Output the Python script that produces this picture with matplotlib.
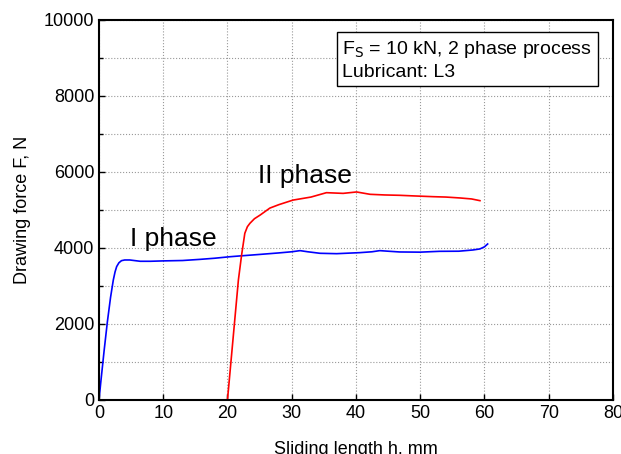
import matplotlib
matplotlib.use("Agg")
import matplotlib.pyplot as plt
from matplotlib.ticker import MultipleLocator

plt.rcParams["font.family"] = ["Liberation Sans", "DejaVu Sans"]

# phase I (blue)
h1 = [0.0, 0.3, 0.8, 1.3, 1.8, 2.23, 2.5, 2.75, 3.1, 3.5, 4.0, 4.8, 6.4, 8.0, 10.0,
      13.0, 15.7, 18.0, 20.4, 21.9, 25.0, 28.0, 30.0, 31.3, 32.5, 34.4, 37.0, 40.6,
      42.5, 43.7, 45.0, 46.8, 50.0, 53.0, 56.0, 58.2, 59.3, 60.0, 60.5]
f1 = [0, 500, 1300, 2050, 2700, 3158, 3370, 3510, 3610, 3666, 3684, 3684, 3650,
      3650, 3660, 3670, 3700, 3730, 3770, 3790, 3830, 3870, 3900, 3930, 3900,
      3860, 3850, 3877, 3900, 3930, 3915, 3895, 3890, 3912, 3915, 3947, 3975,
      4030, 4105]

# phase II (red)
h2 = [20.0, 20.7, 21.4, 21.7, 22.2, 22.7, 23.1, 23.5, 24.2, 25.1, 26.6, 28.0, 30.2,
      33.0, 35.4, 38.0, 40.1, 42.2, 44.5, 46.8, 49.0, 52.0, 54.0, 56.2, 58.0, 59.3]
f2 = [0, 1300, 2600, 3158, 3816, 4386, 4560, 4650, 4770, 4868, 5050, 5140, 5260,
      5340, 5455, 5437, 5474, 5412, 5395, 5386, 5370, 5350, 5340, 5316, 5290, 5245]

fig = plt.figure(figsize=(6.21, 4.54), dpi=100)
ax = fig.add_axes([0.1594, 0.119, 0.8276, 0.837])

ax.plot(h1, f1, color="#0000ff", lw=1.2)
ax.plot(h2, f2, color="#ff0000", lw=1.2)

ax.set_xlim(0, 80)
ax.set_ylim(0, 10000)
ax.xaxis.set_major_locator(MultipleLocator(10))
ax.yaxis.set_major_locator(MultipleLocator(2000))
ax.yaxis.set_minor_locator(MultipleLocator(1000))
ax.grid(True, which="both", color="#999999", ls=":", lw=0.8)
ax.tick_params(which="both", direction="in", labelsize=13, length=4, width=1)
ax.tick_params(which="minor", length=3)
for s in ax.spines.values():
    s.set_linewidth(1.5)

ax.set_xlabel("Sliding length h, mm", fontsize=13, labelpad=14)
ax.set_ylabel("Drawing force F, N", fontsize=13, labelpad=9)

ax.text(4.8, 4053, "I phase", fontsize=19, ha="left", va="baseline")
ax.text(24.7, 5718, "II phase", fontsize=19, ha="left", va="baseline")
ax.text(37.9, 8947, "F$_\\mathrm{S}$ = 10 kN, 2 phase process\nLubricant: L3",
        fontsize=14, ha="left", va="center", linespacing=1.25,
        bbox=dict(boxstyle="square,pad=0.3", fc="white", ec="black", lw=1.0))

fig.savefig("out.png", dpi=100)
